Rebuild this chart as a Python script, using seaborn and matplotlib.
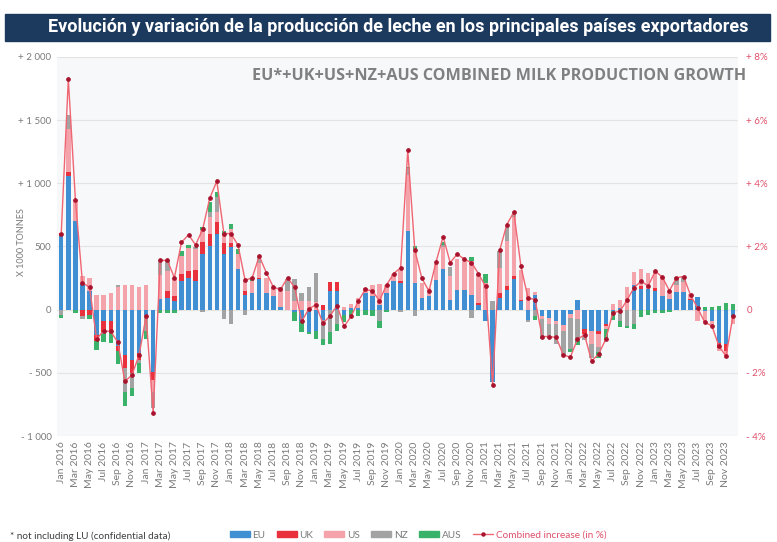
import numpy as np
import pandas as pd
import matplotlib
matplotlib.use("Agg")
import matplotlib.pyplot as plt
import seaborn as sns
from matplotlib.patches import Rectangle, Patch
from matplotlib.lines import Line2D

# Meses Jan 2016 - Dec 2023
months = pd.date_range("2016-01-01", "2023-12-01", freq="MS")
month_labels = [d.strftime("%b %Y") for d in months]

# Variación interanual (x 1000 t)
eu = [585, 1060, 705, 205, 146, -200, -93, -93, -290, -360, -400, -340,
      -40, -490, 85, 93, 66, 226, 253, 226, 444, 505, 598, 444,
      495, 320, 120, 133, 240, 133, 106, 20, 0, -20, -93, -173,
      -170, -80, 150, 150, -40, 15, 15, 133, 106, 40, 133, 226,
      213, 625, 213, 93, 106, 231, 320, 80, 152, 152, 120, 40,
      -93, -572, 93, 152, 240, 66, -80, 120, -53, -66, -93, -120,
      -35, 75, -150, -168, -168, -115, -10, 15, 0, 192, 165, 160,
      150, 112, 85, 138, 138, 77, 98, -10, -88, -260, -275, -60]
uk = [25, 27, 0, -50, -40, -50, -80, -90, -40, -100, -100, -60,
      0, -70, 0, 53, 40, 53, 53, 85, 88, 93, 93, 80,
      30, 0, 27, 0, 10, 0, 0, 0, 0, 0, 0, 0,
      0, 40, 70, 70, 0, 0, 0, 0, 0, 0, 0, 0,
      10, 0, 0, 0, 0, 0, 0, 0, 0, 0, 0, 15,
      0, 0, 40, 35, 27, 10, 0, 0, 0, 0, 0, 0,
      0, 0, -40, 0, -25, -15, 0, 0, 0, 0, 20, 0,
      20, 0, 0, 0, 0, 10, 0, 0, 0, -40, -53, 0]
us = [0, 346, 160, 61, 106, 120, 114, 133, 180, 194, 194, 178,
      194, -90, 191, 160, 146, 146, 186, 168, 98, 133, 80, 69,
      110, 120, 80, 93, 120, 120, 66, 146, 150, 66, 66, 66,
      60, 0, 0, 0, 20, 27, 80, 40, 93, 160, 66, 53,
      93, 440, 266, 120, 66, 128, 173, 190, 247, 234, 266, 226,
      213, 0, 200, 360, 466, 240, 173, 20, -20, -50, -20, -50,
      -30, -75, -20, -106, -106, -20, 45, 60, 180, 106, 133, 130,
      128, 146, 66, 60, 80, 35, -88, -88, -40, -25, -53, -53]
nz = [-45, 106, 0, -20, 0, 0, -20, 0, 15, -190, -120, -20,
      -130, -130, 112, 80, 0, 0, 0, 20, -20, 40, 120, -70,
      -110, 0, -40, 0, 53, 0, 0, 15, 90, 173, 66, 110,
      230, -150, -180, -110, 0, 0, 0, 0, 0, -93, 0, 0,
      -20, 53, -50, 0, 0, 0, 20, 70, 0, 0, -66, 0,
      0, 66, 133, 106, 27, 0, -20, -50, -160, -106, -160, -186,
      -250, -175, -30, -106, -40, 0, 0, -88, -128, -115, 0, 0,
      0, 0, 0, 60, 45, 0, 0, 0, 0, 0, 0, 0]
aus = [-20, 0, -25, 0, -30, -70, -60, -80, -100, -110, -60, -80,
       -60, 0, -30, -30, -25, 40, 18, 0, 21, 80, 40, 32,
       45, 40, 0, 27, 0, 0, 0, 0, 0, -70, -80, -20,
       -60, -50, -90, -60, -60, -50, -53, -40, -53, -53, -20, 0,
       0, 15, 27, 0, 0, 0, 20, 0, 0, 0, 27, 0,
       66, 0, 0, 0, 0, 0, 0, -30, 0, 0, 0, 0,
       -20, -27, 0, 0, -40, -80, -75, -53, -20, -40, -60, -45,
       -30, -25, -20, 0, 0, 0, 0, 20, 25, 30, 50, 45]

# Variación combinada (%)
combined_pct = [2.41, 7.3, 3.48, 0.85, 0.71, -0.93, -0.67, -0.69, -1.03, -2.27, -2.07, -1.44,
                -0.21, -3.27, 1.56, 1.56, 1.01, 2.13, 2.37, 2.05, 2.55, 3.53, 4.07, 2.41,
                2.41, 2.04, 0.93, 1.01, 1.70, 1.17, 0.71, 0.64, 1.01, 0.71, -0.37, 0.02,
                0.16, -0.43, -0.2, 0.13, -0.53, -0.21, 0.27, 0.64, 0.59, 0.29, 0.78, 1.14,
                1.33, 5.05, 1.88, 0.99, 0.59, 1.51, 2.31, 1.49, 1.76, 1.60, 1.49, 1.14,
                0.74, -2.39, 1.88, 2.69, 3.09, 1.38, 0.37, 0.32, -0.85, -0.85, -0.88, -1.44,
                -1.5, -0.93, -0.8, -1.63, -1.4, -0.94, -0.09, -0.05, 0.3, 0.7, 0.9, 0.75,
                1.22, 1.03, 0.6, 1.01, 1.05, 0.45, 0.05, -0.4, -0.51, -1.15, -1.47, -0.19]

series = [("EU", eu, "#3F8FD2"), ("UK", uk, "#E8313C"), ("US", us, "#F4A3AB"),
          ("NZ", nz, "#A3A3A3"), ("AUS", aus, "#3BB26A")]
line_color = "#F06572"
marker_color = "#A8122C"
text_gray = "#7A7A7A"

sns.set_style("white")
plt.rcParams["font.family"] = ["Lato", "DejaVu Sans"]

fig = plt.figure(figsize=(7.77, 5.42), dpi=100)

# Banda del título
fig.patches.append(Rectangle((5 / 777, 1 - 41 / 542), 765 / 777, 27 / 542,
                             transform=fig.transFigure, color="#1C3A5E", zorder=0))
fig.text(398 / 777, 1 - 27.5 / 542,
         "Evolución y variación de la producción de leche en los principales países exportadores",
         ha="center", va="center", color="white", fontsize=13.0, fontweight="bold",
         family="Roboto")

ax = fig.add_axes([57 / 777, 1 - 436 / 542, 681 / 777, 379 / 542])
ax.set_facecolor("#F7F8FA")

x = np.arange(len(months))
pos_base = np.zeros(len(x))
neg_base = np.zeros(len(x))
for name, vals, color in series:
    v = np.array(vals, dtype=float)
    p = np.where(v > 0, v, 0)
    q = np.where(v < 0, v, 0)
    ax.bar(x, p, bottom=pos_base, width=0.62, color=color, linewidth=0, zorder=2)
    ax.bar(x, q, bottom=neg_base, width=0.62, color=color, linewidth=0, zorder=2)
    pos_base += p
    neg_base += q

ax.set_xlim(-0.6, 95.7)
ax.set_ylim(-1000, 2000)
ax.set_axisbelow(True)
ax.yaxis.grid(True, color="#E4E4E4", linewidth=0.8)
ax.set_yticks([-1000, -500, 0, 500, 1000, 1500, 2000])
ax.set_yticklabels(["- 1 000", "- 500", "0", "500", "+ 1 000", "+ 1 500", "+ 2 000"],
                   fontsize=7, color=text_gray)
ax.set_xticks(x[::2])
ax.set_xticklabels(month_labels[::2], rotation=90, fontsize=7.5, color=text_gray)
ax.tick_params(length=0, pad=4)
for s in ax.spines.values():
    s.set_visible(False)

# Línea combinada en eje derecho
ax2 = ax.twinx()
df_line = pd.DataFrame({"x": x, "pct": combined_pct})
sns.lineplot(data=df_line, x="x", y="pct", ax=ax2, color=line_color, linewidth=1.0,
             marker="o", markersize=2.6, markerfacecolor=marker_color,
             markeredgecolor=marker_color, zorder=3)
ax2.set_ylim(-4, 8)
ax2.set_xlim(-0.6, 95.7)
ax2.set_yticks([-4, -2, 0, 2, 4, 6, 8])
ax2.set_yticklabels(["- 4%", "- 2%", "0", "+ 2%", "+ 4%", "+ 6%", "+ 8%"],
                    fontsize=7, color="#E0506A")
ax2.set_xlabel("")
ax2.set_ylabel("")
ax2.tick_params(length=0, pad=6)
for s in ax2.spines.values():
    s.set_visible(False)

fig.text(22 / 777, 1 - 242 / 542, "X 1000 TONNES", rotation=90, ha="center", va="center",
         fontsize=6.5, color=text_gray)

fig.text(746 / 777, 1 - 76 / 542, "EU*+UK+US+NZ+AUS COMBINED MILK PRODUCTION GROWTH",
         ha="right", va="center", fontsize=11.6, fontweight="bold", color="#808080",
         family="Open Sans")

fig.text(10 / 777, 1 - 536 / 542, "* not including LU (confidential data)",
         ha="left", va="center", fontsize=7.2, color="#404040")

handles = [Patch(color=c) for _, _, c in series]
handles.append(Line2D([0], [0], color=line_color, lw=1.0, marker="o", markersize=2.2,
                      markerfacecolor=marker_color, markeredgecolor=marker_color))
labels = [n for n, _, _ in series] + ["Combined increase (in %)"]
leg = fig.legend(handles, labels, loc="center", bbox_to_anchor=(418 / 777, 1 - 535 / 542),
                 ncol=6, frameon=False, fontsize=7.2, handlelength=2.0, handleheight=0.6,
                 handletextpad=0.3, columnspacing=1.1)
for t in leg.get_texts():
    t.set_color(text_gray)
leg.get_texts()[-1].set_color("#E0506A")

fig.savefig("out.png", dpi=100)
